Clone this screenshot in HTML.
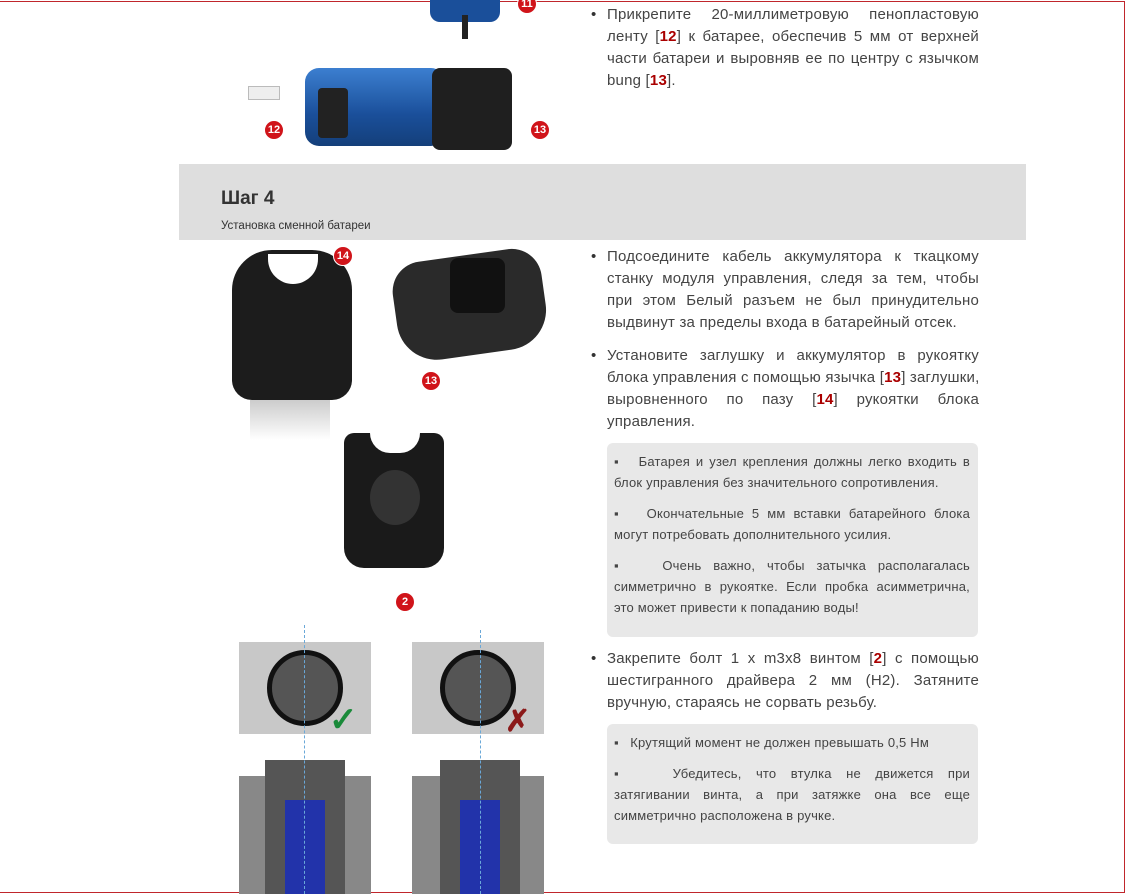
<!DOCTYPE html>
<html><head><meta charset="utf-8"><style>
body{margin:0;width:1128px;height:894px;overflow:hidden;background:#fff;font-family:"Liberation Sans",sans-serif;position:relative}
.frame{position:absolute;left:0;top:1px;width:1124px;height:890px;border:1px solid #c0262c;border-left:none}
.t{position:absolute;left:607px;width:372px;font-size:15px;line-height:22px;color:#444;letter-spacing:0.2px}
.t:before{content:"•";position:absolute;left:-16px;color:#333}
.j{display:block;text-align:justify;text-align-last:justify;white-space:nowrap}
.r{color:#a00;font-weight:bold}
.box{position:absolute;left:607px;width:356px;background:#e8e8e8;border-radius:6px;padding:8px 8px 8px 7px;font-size:13px;line-height:21px;color:#444;letter-spacing:0.2px}
.box p{margin:0 0 10px}
.box span{display:block;white-space:nowrap}
.box .j{text-align-last:justify}
.hdr{position:absolute;left:179px;top:164px;width:847px;height:76px;background:#dedede}
.ph{position:absolute}
.num{position:absolute;width:18px;height:18px;border-radius:50%;background:#d0141a;color:#fff;font-size:11px;font-weight:bold;text-align:center;line-height:18px;border:1px solid #fff}
</style></head><body>
<div class="frame"></div>
<div class="ph" style="left:430px;top:0;width:70px;height:22px;background:#1a4f9a;border-radius:0 0 10px 10px"></div>
<div class="ph" style="left:462px;top:15px;width:6px;height:24px;background:#222"></div>
<div class="num" style="left:517px;top:-6px">11</div>
<div class="ph" style="left:305px;top:68px;width:140px;height:78px;background:linear-gradient(#3c7fd0,#1a4f9a 60%,#143f7a);border-radius:14px"></div>
<div class="ph" style="left:318px;top:88px;width:30px;height:50px;background:#222;border-radius:4px"></div>
<div class="ph" style="left:432px;top:68px;width:80px;height:82px;background:#1f1f1f;border-radius:8px"></div>
<div class="ph" style="left:248px;top:86px;width:30px;height:12px;background:#eee;border:1px solid #bbb"></div>
<div class="num" style="left:264px;top:120px">12</div>
<div class="num" style="left:530px;top:120px">13</div>
<div class="t" style="top:4px"><span class="j">Прикрепите 20-миллиметровую пенопластовую</span><span class="j">ленту [<span class="r">12</span>] к батарее, обеспечив 5 мм от верхней</span><span class="j">части батареи и выровняв ее по центру с язычком</span>bung [<span class="r">13</span>].</div>
<div class="hdr"></div>
<div style="position:absolute;left:221px;top:188px;font-size:19px;font-weight:bold;color:#333">Шаг 4</div>
<div style="position:absolute;left:221px;top:220px;font-size:11.5px;color:#333">Установка сменной батареи</div>
<div class="ph" style="left:232px;top:250px;width:120px;height:150px;background:#1c1c1c;border-radius:40px 40px 20px 20px"></div>
<div class="ph" style="left:268px;top:254px;width:50px;height:30px;background:#fff;border-radius:0 0 25px 25px"></div>
<div class="ph" style="left:250px;top:400px;width:80px;height:40px;background:linear-gradient(#ccc,#fff)"></div>
<div class="num" style="left:333px;top:246px">14</div>
<div class="ph" style="left:395px;top:255px;width:150px;height:100px;background:#2a2a2a;border-radius:30px 30px 40px 40px;transform:rotate(-8deg)"></div>
<div class="ph" style="left:450px;top:258px;width:55px;height:55px;background:#111;border-radius:8px"></div>
<div class="num" style="left:421px;top:371px">13</div>
<div class="ph" style="left:344px;top:433px;width:100px;height:135px;background:#1a1a1a;border-radius:10px 10px 20px 20px"></div>
<div class="ph" style="left:370px;top:433px;width:50px;height:20px;background:#fff;border-radius:0 0 20px 20px"></div>
<div class="ph" style="left:370px;top:470px;width:50px;height:55px;background:#333;border-radius:50%"></div>
<div class="num" style="left:395px;top:592px">2</div>
<div class="ph" style="left:239px;top:642px;width:132px;height:92px;background:#c8c8c8"></div>
<div class="ph" style="left:267px;top:650px;width:76px;height:76px;border-radius:50%;background:#555;border:5px solid #111;box-sizing:border-box"></div>
<div class="ph" style="left:412px;top:642px;width:132px;height:92px;background:#c8c8c8"></div>
<div class="ph" style="left:440px;top:650px;width:76px;height:76px;border-radius:50%;background:#555;border:5px solid #111;box-sizing:border-box"></div>
<div style="position:absolute;left:329px;top:700px;font-size:34px;color:#1a8a3a;font-weight:bold">✓</div>
<div style="position:absolute;left:505px;top:704px;font-size:30px;color:#8b1a1a;font-weight:bold">✗</div>
<div class="ph" style="left:239px;top:776px;width:132px;height:118px;background:#888"></div>
<div class="ph" style="left:265px;top:760px;width:80px;height:134px;background:#555"></div>
<div class="ph" style="left:285px;top:800px;width:40px;height:94px;background:#2233aa"></div>
<div class="ph" style="left:412px;top:776px;width:132px;height:118px;background:#888"></div>
<div class="ph" style="left:440px;top:760px;width:80px;height:134px;background:#555"></div>
<div class="ph" style="left:460px;top:800px;width:40px;height:94px;background:#2233aa"></div>
<div class="ph" style="left:304px;top:625px;width:0;height:269px;border-left:1px dashed #6aa8d8"></div>
<div class="ph" style="left:480px;top:630px;width:0;height:264px;border-left:1px dashed #6aa8d8"></div>
<div class="t" style="top:246px"><span class="j">Подсоедините кабель аккумулятора к ткацкому</span><span class="j">станку модуля управления, следя за тем, чтобы</span><span class="j">при этом Белый разъем не был принудительно</span>выдвинут за пределы входа в батарейный отсек.</div>
<div class="t" style="top:345px"><span class="j">Установите заглушку и аккумулятор в рукоятку</span><span class="j">блока управления с помощью язычка [<span class="r">13</span>] заглушки,</span><span class="j">выровненного по пазу [<span class="r">14</span>] рукоятки блока</span>управления.</div>
<div class="box" style="top:443px;height:178px">
<p><span class="j">▪ &nbsp; Батарея и узел крепления должны легко входить в</span><span>блок управления без значительного сопротивления.</span></p>
<p><span class="j">▪ &nbsp; Окончательные 5 мм вставки батарейного блока</span><span>могут потребовать дополнительного усилия.</span></p>
<p><span class="j">▪ &nbsp; Очень важно, чтобы затычка располагалась</span><span class="j">симметрично в рукоятке. Если пробка асимметрична,</span><span>это может привести к попаданию воды!</span></p>
</div>
<div class="t" style="top:648px"><span class="j">Закрепите болт 1 x m3x8 винтом [<span class="r">2</span>] с помощью</span><span class="j">шестигранного драйвера 2 мм (H2). Затяните</span>вручную, стараясь не сорвать резьбу.</div>
<div class="box" style="top:724px;height:104px">
<p><span>▪ &nbsp; Крутящий момент не должен превышать 0,5 Нм</span></p>
<p><span class="j">▪ &nbsp; Убедитесь, что втулка не движется при</span><span class="j">затягивании винта, а при затяжке она все еще</span><span>симметрично расположена в ручке.</span></p>
</div>
</body></html>
